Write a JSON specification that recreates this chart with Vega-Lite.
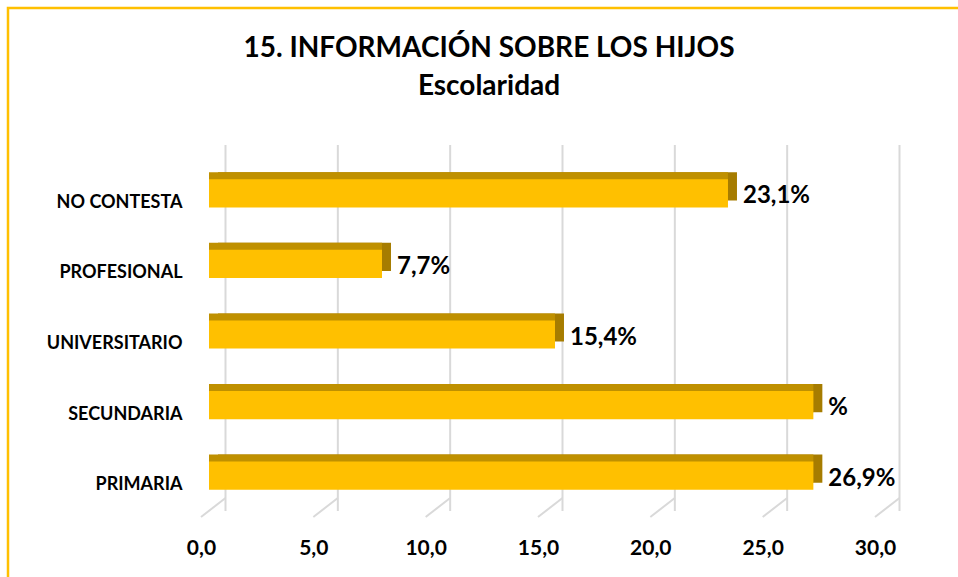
{
  "$schema": "https://vega.github.io/schema/vega-lite/v6.json",
  "width": 674,
  "height": 353,
  "autosize": {"type": "none"},
  "padding": {"left": 209, "top": 158, "right": 75, "bottom": 66},
  "background": "white",
  "config": {"view": {"stroke": null}, "font": "Lato"},
  "title": {
    "text": ["15. INFORMACIÓN SOBRE LOS HIJOS", "Escolaridad"],
    "font": "Lato",
    "fontSize": 28,
    "fontWeight": "bold",
    "color": "#000000",
    "anchor": "middle",
    "frame": "group",
    "lineHeight": 38,
    "offset": -94,
    "dx": -57
  },
  "datasets": {
    "bars": [
      {"categoria": "NO CONTESTA", "porcentaje": 23.1, "etiqueta": "23,1%"},
      {"categoria": "PROFESIONAL", "porcentaje": 7.7, "etiqueta": "7,7%"},
      {"categoria": "UNIVERSITARIO", "porcentaje": 15.4, "etiqueta": "15,4%"},
      {"categoria": "SECUNDARIA", "porcentaje": 26.9, "etiqueta": "%"},
      {"categoria": "PRIMARIA", "porcentaje": 26.9, "etiqueta": "26,9%"}
    ],
    "grid": [{"v": 0}, {"v": 5}, {"v": 10}, {"v": 15}, {"v": 20}, {"v": 25}, {"v": 30}]
  },
  "layer": [
    {
      "data": {"values": [{}]},
      "mark": {"type": "rect", "fill": null, "stroke": "#FFC000", "strokeWidth": 2.5, "xOffset": -201, "yOffset": -150, "x2Offset": 120, "y2Offset": 120},
      "encoding": {
        "x": {"value": 0},
        "x2": {"value": "width"},
        "y": {"value": 0},
        "y2": {"value": "height"}
      }
    },
    {
      "data": {"name": "grid"},
      "mark": {"type": "rule", "color": "#D9D9D9", "strokeWidth": 2, "xOffset": 16.5, "yOffset": -13, "y2Offset": -13},
      "encoding": {
        "x": {"field": "v", "type": "quantitative", "scale": {"domain": [0, 30], "nice": false, "zero": true},
          "axis": {
            "values": [0, 5, 10, 15, 20, 25, 30],
            "labelExpr": "replace(format(datum.value, '.1f'), '.', ',')",
            "domain": false, "ticks": false, "grid": false, "title": null, "labelFlush": false,
            "labelFont": "Lato", "labelFontSize": 21, "labelFontWeight": "bold", "labelColor": "#000000",
            "labelPadding": 26, "labelOffset": -8, "labelBaseline": "top"
          }
        }
      }
    },
    {
      "data": {"name": "grid"},
      "mark": {"type": "rule", "color": "#D9D9D9", "strokeWidth": 2, "xOffset": 16.5, "x2Offset": -8, "yOffset": -13, "y2Offset": 6},
      "encoding": {
        "x": {"field": "v", "type": "quantitative"},
        "x2": {"field": "v"},
        "y": {"value": "height"},
        "y2": {"value": "height"}
      }
    },
    {
      "data": {"name": "bars"},
      "layer": [
        {
          "mark": {"type": "bar", "color": "#A67C00", "xOffset": 9, "x2Offset": 9, "yOffset": -7, "y2Offset": -7},
          "encoding": {
            "x": {"field": "porcentaje", "type": "quantitative"},
            "y": {"field": "categoria", "type": "nominal", "sort": null,
              "scale": {"paddingInner": 0.6, "paddingOuter": 0.3},
              "axis": {"title": null, "domain": false, "ticks": false, "grid": false,
                "labelFont": "Lato", "labelFontSize": 18, "labelFontWeight": "bold", "labelColor": "#000000",
                "labelPadding": 27, "labelOffset": 9.5}
            }
          }
        },
        {
          "mark": {"type": "bar", "color": "#BF9000", "xOffset": 0, "x2Offset": 9, "yOffset": -7, "y2Offset": -7},
          "encoding": {
            "x": {"field": "porcentaje", "type": "quantitative"},
            "y": {"field": "categoria", "type": "nominal", "sort": null}
          }
        },
        {
          "mark": {"type": "bar", "color": "#FFC000"},
          "encoding": {
            "x": {"field": "porcentaje", "type": "quantitative"},
            "y": {"field": "categoria", "type": "nominal", "sort": null}
          }
        },
        {
          "mark": {"type": "text", "align": "left", "baseline": "middle", "dx": 15, "dy": 3, "font": "Lato", "fontSize": 24, "fontWeight": "bold", "color": "#000000"},
          "encoding": {
            "x": {"field": "porcentaje", "type": "quantitative"},
            "y": {"field": "categoria", "type": "nominal", "sort": null},
            "text": {"field": "etiqueta"}
          }
        }
      ]
    }
  ]
}
